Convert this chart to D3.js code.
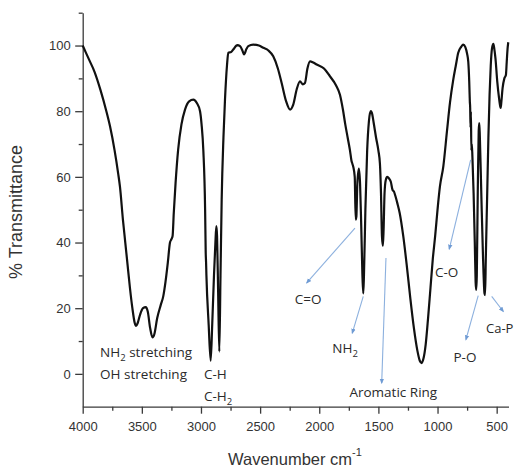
<!DOCTYPE html>
<html>
<head>
<meta charset="utf-8">
<script src="https://cdn.jsdelivr.net/npm/d3@7"></script>
<style>
  html, body { margin: 0; padding: 0; background: #fff; }
  svg { display: block; }
</style>
</head>
<body>
<svg id="chart" width="516" height="468"></svg>
<script>
// ---- Data ----
const wavenumbers = [
  4000, 3950, 3900, 3850, 3800, 3769, 3730, 3700, 3685, 3660, 3640, 3620, 3600, 3580, 3560, 3549,
  3535, 3515, 3490, 3467, 3450, 3430, 3410, 3395, 3370, 3340, 3319, 3300, 3280, 3262, 3250, 3240,
  3230, 3215, 3193, 3165, 3135, 3100, 3065, 3035, 3008, 2995, 2980, 2965, 2960, 2957, 2954, 2935,
  2918, 2905, 2890, 2878, 2870, 2864, 2855, 2845, 2835, 2825, 2810, 2797, 2780, 2769, 2745, 2727,
  2700, 2693, 2670, 2650, 2636, 2615, 2600, 2558, 2510, 2473, 2430, 2389, 2350, 2318, 2280, 2247,
  2220, 2191, 2163, 2140, 2121, 2100, 2078, 2050, 2022, 1960, 1909, 1860, 1825, 1800, 1780, 1760,
  1740, 1728, 1720, 1712, 1700, 1692, 1686, 1678, 1665, 1655, 1645, 1635, 1628, 1622, 1610, 1595,
  1580, 1565, 1555, 1540, 1520, 1500, 1487, 1478, 1470, 1462, 1456, 1448, 1438, 1425, 1410, 1395,
  1380, 1368, 1355, 1340, 1320, 1290, 1260, 1230, 1200, 1170, 1150, 1134, 1120, 1100, 1080, 1060,
  1040, 1020, 1000, 980, 951, 920, 895, 867, 845, 825, 800, 783, 765, 750, 740, 732,
  727, 724, 721, 718, 714, 710, 705, 695, 685, 678, 673, 668, 660, 652, 647, 642,
  630, 615, 603, 598, 592, 580, 570, 560, 550, 540, 528, 520, 510, 495, 480, 470,
  466, 460, 450, 435, 422, 415, 408, 402
];
const transmittance = [
  100, 96, 92, 86.5, 80, 75.4, 68, 61, 57, 47, 40, 33, 26, 20, 15.5, 14.6,
  15.5, 18, 20, 20.3, 19, 14, 11.1, 12, 17, 21, 23.6, 28, 34, 40, 41, 42,
  49, 58, 68.3, 76, 80.5, 83, 83.5, 82.5, 80, 76, 68, 50, 37, 34, 30, 15,
  4, 15, 30, 40, 45, 42, 25, 6.8, 30, 53, 72, 83.5, 94, 97.8, 98, 98.8,
  100, 100.1, 99.8, 98.5, 97.3, 99, 99.8, 100.3, 100, 99.3, 98.5, 96.7, 93, 88.6, 83, 80.5,
  82, 86.6, 89.1, 88.2, 88.6, 93, 95.2, 94.8, 94.2, 93, 90.6, 88, 85, 80.5, 76, 72,
  68, 65, 64, 63, 60, 47, 48, 58, 62.5, 58, 45, 30, 24.5, 30, 50, 68,
  77, 80, 79.5, 76.5, 72, 68, 64, 55, 42, 39, 44, 55, 59, 60, 59.5, 58.5,
  56, 55.5, 54, 52, 49, 42, 33, 23, 14, 7, 4, 3.3, 4.5, 9, 17, 26,
  35, 42, 50, 57, 63.2, 74, 82.5, 89.6, 94, 97.8, 99.6, 100.3, 99.5, 97.5, 95, 89,
  83, 81, 75, 80, 68, 70, 66, 55, 40, 28, 25.6, 30, 55, 74, 76.4, 72,
  55, 35, 24.5, 24, 35, 55, 72, 85, 94, 99, 100.5, 99, 96, 89, 84, 81.5,
  81, 83, 87, 90, 91, 95, 99, 101
];

const xTickValues = [4000, 3500, 3000, 2500, 2000, 1500, 1000, 500];
const xMinorTicks = [3750, 3250, 2750, 2250, 1750, 1250, 750];
const yTickValues = [0, 20, 40, 60, 80, 100];
const yMinorTicks = [10, 30, 50, 70, 90, 110];

// annotation arrows: [wn, T] start and end
const arrowFrom = [[1698, 44.4], [1628, 23.6], [1436, 35.3], [720, 65.2], [656, 23.8], [542, 23.6]];
const arrowTo   = [[2106, 27.7], [1721, 12.4], [1472, -2.8], [901, 38.0], [760, 10.4], [444, 19.0]];

// annotation labels
const labelTexts   = ["C=O", "NH", "Aromatic Ring", "C-O", "P-O", "Ca-P", "NH", "OH stretching", "C-H", "C-H"];
const labelSubs    = ["", "2", "", "", "", "", "2", "", "", "2"];
const labelSuffix  = ["", "", "", "", "", "", " stretching", "", "", ""];
const labelWn      = [2094, 1782, 1374, 923, 768, 590, 3853, 3853, 2975, 2975];
const labelT       = [22.6, 7.9, -5.6, 30.9, 5.0, 13.9, 6.5, 0.0, -0.1, -6.9];
const labelAnchor  = ["middle", "middle", "middle", "middle", "middle", "start", "start", "start", "start", "start"];

// ---- Chart ----
const svg = d3.select("#chart");
const x = d3.scaleLinear().domain([4000, 400]).range([82.7, 508.5]);
const y = d3.scaleLinear().domain([-10, 110]).range([406.7, 12.7]);

const axisColor = "#3a3a3a";
const tickFont = "Liberation Sans, Arial, sans-serif";

// minor ticks
svg.append("g").attr("transform", `translate(0,${y(-10)})`)
  .call(d3.axisBottom(x).tickValues(xMinorTicks).tickSize(4).tickFormat(""))
  .call(g => g.select(".domain").remove())
  .call(g => g.selectAll("line").attr("stroke", axisColor).attr("stroke-width", 1.3));
svg.append("g").attr("transform", `translate(${x(4000)},0)`)
  .call(d3.axisLeft(y).tickValues(yMinorTicks).tickSize(4).tickFormat(""))
  .call(g => g.select(".domain").remove())
  .call(g => g.selectAll("line").attr("stroke", axisColor).attr("stroke-width", 1.3));

// major x axis
svg.append("g").attr("transform", `translate(0,${y(-10)})`)
  .call(d3.axisBottom(x).tickValues(xTickValues).tickSize(7).tickSizeOuter(0).tickPadding(8).tickFormat(d3.format("d")))
  .call(g => g.select(".domain").attr("stroke", axisColor).attr("stroke-width", 1.3))
  .call(g => g.selectAll("line").attr("stroke", axisColor).attr("stroke-width", 1.3))
  .call(g => g.selectAll("text").attr("fill", "#333").attr("font-size", 13).attr("font-family", tickFont));

// major y axis
svg.append("g").attr("transform", `translate(${x(4000)},0)`)
  .call(d3.axisLeft(y).tickValues(yTickValues).tickSize(7.5).tickSizeOuter(0).tickPadding(4.5))
  .call(g => g.select(".domain").attr("stroke", axisColor).attr("stroke-width", 1.3))
  .call(g => g.selectAll("line").attr("stroke", axisColor).attr("stroke-width", 1.3))
  .call(g => g.selectAll("text").attr("fill", "#333").attr("font-size", 13).attr("font-family", tickFont));

// axis titles
const xt = svg.append("text")
  .attr("x", 228).attr("y", 465)
  .attr("font-family", tickFont).attr("font-size", 16.5).attr("fill", "#333")
  .text("Wavenumber cm");
xt.append("tspan").attr("dy", -9).attr("font-size", 11).text("-1");

svg.append("text")
  .attr("transform", "translate(22,212) rotate(-90)")
  .attr("text-anchor", "middle")
  .attr("font-family", tickFont).attr("font-size", 18).attr("fill", "#333")
  .text("% Transmittance");

// spectrum
const pts = wavenumbers.map((w, i) => [w, transmittance[i]]);
svg.append("path")
  .datum(pts)
  .attr("fill", "none")
  .attr("stroke", "#111")
  .attr("stroke-width", 2.2)
  .attr("stroke-linejoin", "round")
  .attr("d", d3.line().x(d => x(d[0])).y(d => y(d[1])).curve(d3.curveMonotoneX));

// arrows
const defs = svg.append("defs");
defs.append("marker").attr("id", "ah")
  .attr("viewBox", "0 0 10 10").attr("refX", 8).attr("refY", 5)
  .attr("markerWidth", 5).attr("markerHeight", 5).attr("orient", "auto")
  .append("path").attr("d", "M0,1 L10,5 L0,9 Z").attr("fill", "#6f9bd4");

const arrowColor = "#8cb0de";
svg.append("g").selectAll("line").data(arrowFrom).join("line")
  .attr("x1", d => x(d[0])).attr("y1", d => y(d[1]))
  .attr("x2", (d, i) => x(arrowTo[i][0])).attr("y2", (d, i) => y(arrowTo[i][1]))
  .attr("stroke", arrowColor).attr("stroke-width", 1.1)
  .attr("marker-end", "url(#ah)");

// labels
const lg = svg.append("g").attr("font-family", "Open Sans, Liberation Sans, sans-serif")
  .attr("font-size", 13.5).attr("fill", "#2a2a2a");
labelTexts.forEach((t, i) => {
  const tx = lg.append("text")
    .attr("x", x(labelWn[i])).attr("y", y(labelT[i]))
    .attr("dy", "0.35em")
    .attr("text-anchor", labelAnchor[i]);
  if (t === "Ca-P") tx.attr("font-size", 13);
  tx.append("tspan").text(t);
  if (labelSubs[i]) {
    tx.append("tspan").attr("dy", 4).attr("font-size", 9.5).text(labelSubs[i]);
    if (labelSuffix[i]) tx.append("tspan").attr("dy", -4).text(labelSuffix[i]);
  }
});
</script>
</body>
</html>
